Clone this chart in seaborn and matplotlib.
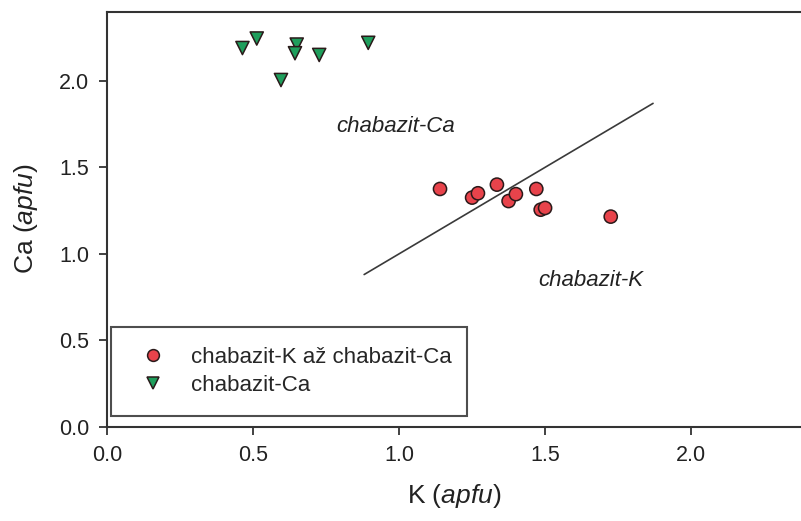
# Ca vs K scatter for chabazite samples, seaborn version
import pandas as pd
import matplotlib
matplotlib.use("Agg")
import matplotlib.pyplot as plt
import seaborn as sns

# chabazit-K az chabazit-Ca (circles)
k_circle = [1.14, 1.25, 1.27, 1.335, 1.375, 1.40, 1.47, 1.485, 1.50, 1.725]
ca_circle = [1.375, 1.325, 1.35, 1.40, 1.305, 1.345, 1.375, 1.255, 1.265, 1.215]

# chabazit-Ca (triangles)
k_tri = [0.463, 0.512, 0.649, 0.643, 0.726, 0.595, 0.894]
ca_tri = [2.19, 2.245, 2.21, 2.16, 2.15, 2.005, 2.22]

# boundary line K = Ca
line_k = [0.88, 1.87]
line_ca = [0.88, 1.87]

label_circle = "chabazit-K až chabazit-Ca"
label_tri = "chabazit-Ca"

x_ticks = [0.0, 0.5, 1.0, 1.5, 2.0]
y_ticks = [0.0, 0.5, 1.0, 1.5, 2.0]

df = pd.DataFrame({
    "K": k_circle + k_tri,
    "Ca": ca_circle + ca_tri,
    "group": [label_circle] * len(k_circle) + [label_tri] * len(k_tri),
})

sns.set_style("white")
plt.rcParams["font.family"] = ["Liberation Sans", "DejaVu Sans"]
plt.rcParams["mathtext.fontset"] = "custom"
plt.rcParams["mathtext.rm"] = "Liberation Sans"
plt.rcParams["mathtext.it"] = "Liberation Sans:italic"

fig = plt.figure(figsize=(8.01, 5.21), dpi=100)
ax = fig.add_axes([0.134, 0.181, 0.866, 0.7965])

sns.scatterplot(
    data=df, x="K", y="Ca", hue="group", style="group",
    palette={label_circle: "#e8434b", label_tri: "#1f9e5c"},
    markers={label_circle: "o", label_tri: "v"},
    s=90, edgecolor="#2a1a1a", linewidth=1.1, ax=ax, zorder=3,
)

ax.plot(line_k, line_ca, color="#3a3a3a", lw=1.2, zorder=2)

ax.text(0.786, 1.738, "chabazit-Ca", style="italic", fontsize=16,
        ha="left", va="center", color="#222222")
ax.text(1.477, 0.848, "chabazit-K", style="italic", fontsize=16,
        ha="left", va="center", color="#222222")

ax.set_xlim(0, 2.377)
ax.set_ylim(0, 2.4)
ax.set_xticks(x_ticks)
ax.set_yticks(y_ticks)
ax.set_xticklabels([f"{v:.1f}" for v in x_ticks])
ax.set_yticklabels([f"{v:.1f}" for v in y_ticks])
ax.tick_params(axis="both", direction="out", length=6, width=1.3,
               color="#333333", labelsize=15.5, labelcolor="#222222",
               pad=7, left=True, bottom=True)

for side in ["left", "bottom", "top"]:
    ax.spines[side].set_color("#333333")
    ax.spines[side].set_linewidth(1.5)
ax.spines["right"].set_visible(False)

ax.set_xlabel("K ($\\it{apfu}$)", fontsize=19, labelpad=12, color="#222222")
ax.set_ylabel("Ca ($\\it{apfu}$)", fontsize=19, labelpad=14, color="#222222")

# legend in a square box at lower left
handles, labels = ax.get_legend_handles_labels()
leg = ax.legend(
    handles, labels, loc="upper left",
    bbox_to_anchor=(0.0053, 0.0, 0.513, 0.240), mode="expand",
    borderaxespad=0, fontsize=16, frameon=True, fancybox=False,
    handlelength=2.0, handletextpad=0.7, borderpad=0.9, labelspacing=0.3,
)
leg.get_frame().set_edgecolor("#222222")
leg.get_frame().set_linewidth(1.5)
for h in leg.legend_handles:
    h.set_markersize(8.5)

fig.savefig("out.png", dpi=100)
